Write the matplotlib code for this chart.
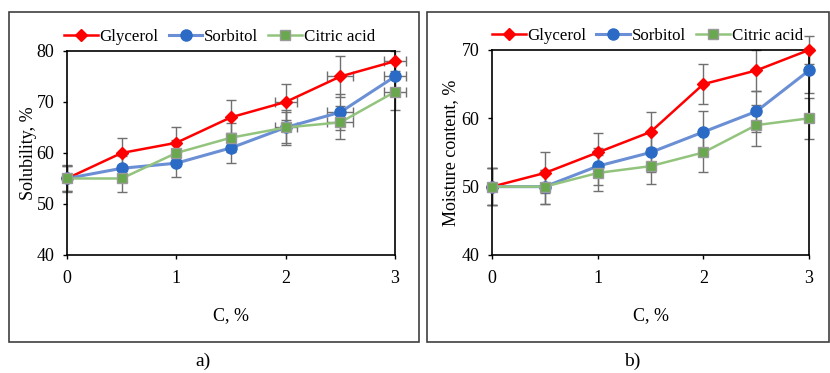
import numpy as np
import matplotlib
matplotlib.use("Agg")
from matplotlib import pyplot as plt
from matplotlib.patches import Rectangle

plt.rcParams['font.family'] = ['Liberation Serif', 'DejaVu Serif']

# ---- data ----
conc = [0, 0.5, 1, 1.5, 2, 2.5, 3]

# a) solubility, %
sol_gly = [55, 60, 62, 67, 70, 75, 78]
sol_sor = [55, 57, 58, 61, 65, 68, 75]
sol_cit = [55, 55, 60, 63, 65, 66, 72]
sol_gly_err = [2.5, 3, 3, 3.4, 3.5, 4, 2]
sol_sor_err = [2.5, 2.5, 2.8, 2.9, 3, 3.5, 3]
sol_cit_err = [2.7, 2.7, 2.5, 2.8, 3.5, 3.3, 3.5]
sol_gly_xerr = [0, 0, 0, 0, 0.1, 0.12, 0.1]
sol_sor_xerr = [0, 0, 0, 0, 0, 0.12, 0.1]
sol_cit_xerr = [0, 0, 0, 0, 0.1, 0.12, 0.1]

# b) moisture content, %
moi_gly = [50, 52, 55, 58, 65, 67, 70]
moi_sor = [50, 50, 53, 55, 58, 61, 67]
moi_cit = [50, 50, 52, 53, 55, 59, 60]
moi_gly_err = [2.7, 3, 2.8, 2.9, 2.9, 3, 2]
moi_sor_err = [2.7, 2.5, 2.7, 2.8, 3, 3, 3.3]
moi_cit_err = [2.7, 2.5, 2.6, 2.6, 2.8, 3, 3]

names = ['Glycerol', 'Sorbitol', 'Citric acid']

fig = plt.figure(figsize=(8.3, 3.73), dpi=100)

# outer frames of the two panels
fig.patches.append(Rectangle((9 / 830, 1 - 342 / 373), 410 / 830, 330 / 373,
                             transform=fig.transFigure, fill=False,
                             edgecolor='#404040', linewidth=1.2))
fig.patches.append(Rectangle((427 / 830, 1 - 342 / 373), 402 / 830, 330 / 373,
                             transform=fig.transFigure, fill=False,
                             edgecolor='#404040', linewidth=1.2))

ax1 = fig.add_axes([0.0807, 0.3164, 0.3952, 0.5469])
ax2 = fig.add_axes([0.5928, 0.3164, 0.3819, 0.5496])


def draw(ax, series, errs, xerrs, ylim, yticks, ylabel, leg_x, ypad):
    styles = [
        dict(color='#ff0000', marker='D', markersize=6, mfc='#ff0000', mec='#ff0000', lw=1.8),
        dict(color='#6a8fd4', marker='o', markersize=8, mfc='#2b6bc6', mec='#2b6bc6', lw=2.2),
        dict(color='#93c47d', marker='s', markersize=7.5, mfc='#6aa84f', mec='#9a9a9a', lw=1.8),
    ]
    for vals, err, xerr, st, name in zip(series, errs, xerrs, styles, names):
        ax.errorbar(conc, vals, yerr=err, xerr=xerr, fmt='none', ecolor='#707070',
                    elinewidth=1.0, capsize=3.5, capthick=1.0, clip_on=False, zorder=2)
        ax.plot(conc, vals, label=name, clip_on=False, zorder=3, **st)
    ax.set_xlim(0, 3)
    ax.set_ylim(*ylim)
    ax.set_xticks([0, 1, 2, 3])
    ax.set_yticks(yticks)
    ax.tick_params(labelsize=13, direction='out', length=3, width=1)
    ax.tick_params(axis='y', pad=6)
    ax.tick_params(axis='x', pad=8)
    for s in ax.spines.values():
        s.set_linewidth(1.2)
        s.set_color('black')
    ax.set_xlabel('C, %', fontsize=13, labelpad=14)
    ax.set_ylabel(ylabel, fontsize=13, labelpad=ypad)
    ax.legend(loc='center', bbox_to_anchor=(leg_x, 1.07), ncol=3, frameon=False,
              fontsize=12.2, handlelength=2.0, handletextpad=0.1, columnspacing=0.6,
              borderaxespad=0)


draw(ax1, [sol_gly, sol_sor, sol_cit], [sol_gly_err, sol_sor_err, sol_cit_err],
     [sol_gly_xerr, sol_sor_xerr, sol_cit_xerr], (40, 80), [40, 50, 60, 70, 80],
     'Solubility, %', 0.465, 0)
draw(ax2, [moi_gly, moi_sor, moi_cit], [moi_gly_err, moi_sor_err, moi_cit_err],
     [None, None, None], (40, 70), [40, 50, 60, 70],
     'Moisture content, %', 0.49, 2)

fig.text(203 / 830, 1 - 361 / 373, 'a)', ha='center', va='center', fontsize=14)
fig.text(632 / 830, 1 - 361 / 373, 'b)', ha='center', va='center', fontsize=14)

fig.savefig('out.png', dpi=100)
